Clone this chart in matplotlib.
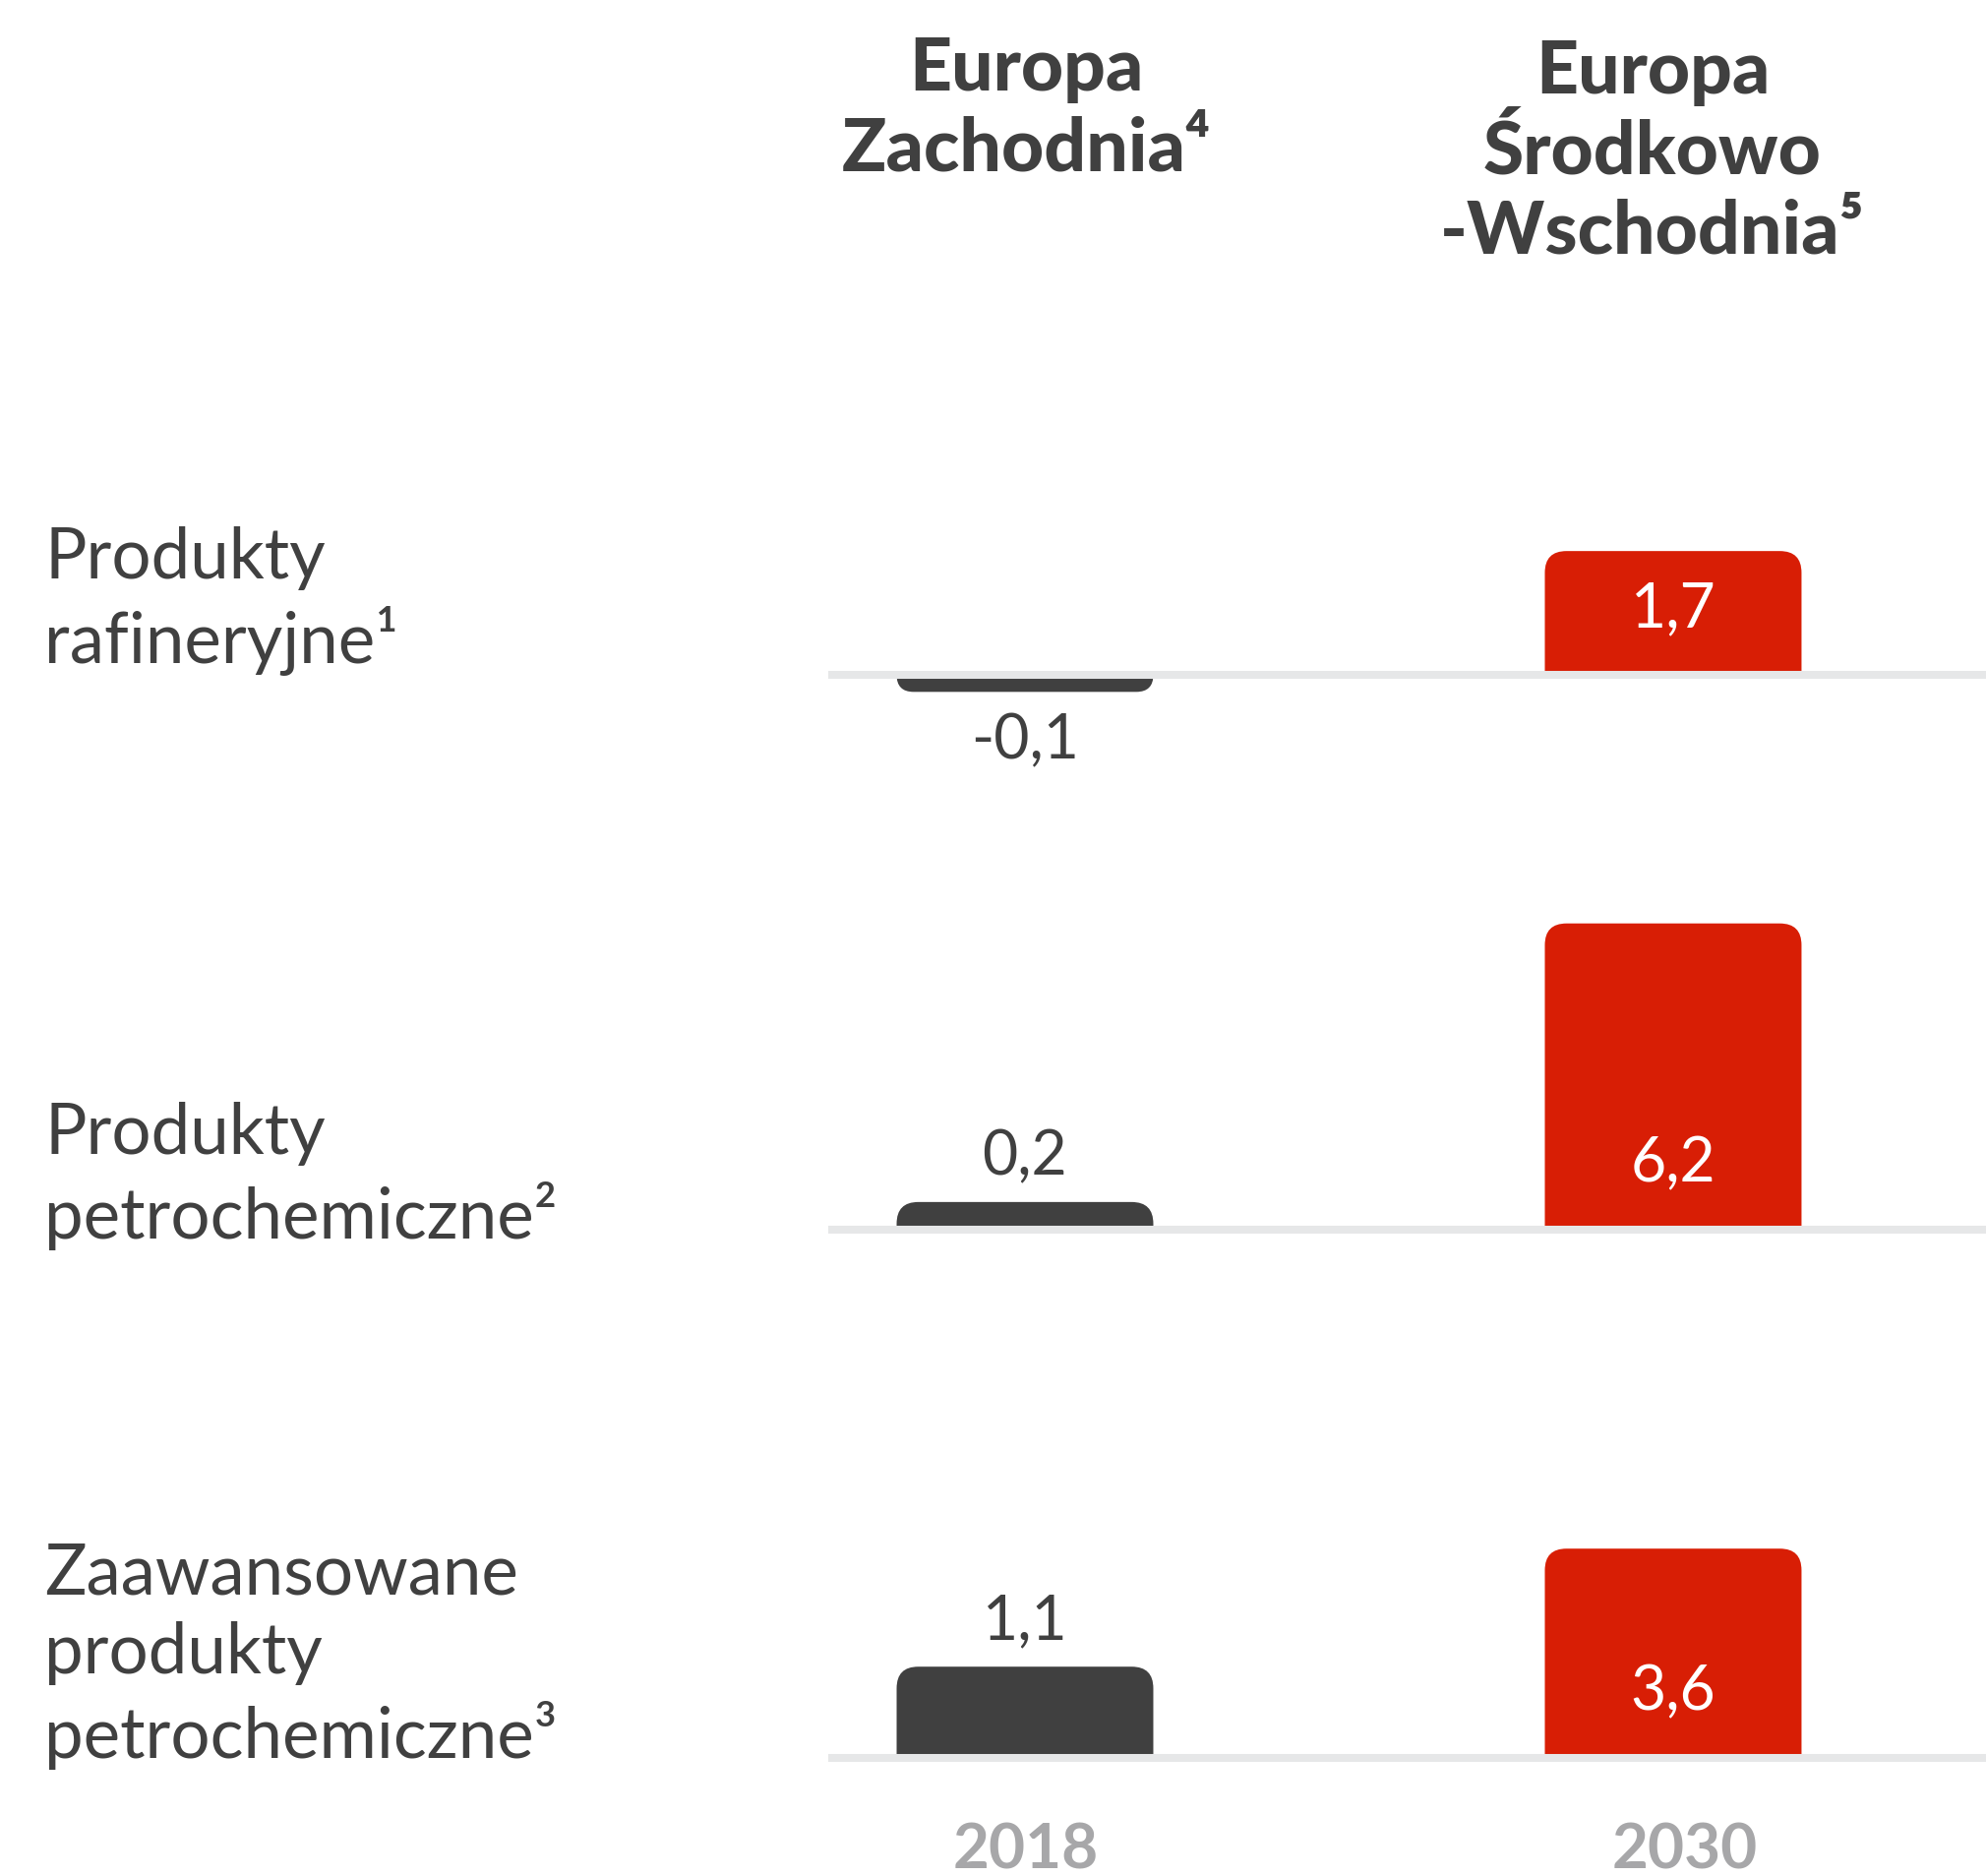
import numpy as np
import matplotlib.pyplot as plt
from matplotlib.path import Path
from matplotlib.patches import PathPatch
from matplotlib.transforms import IdentityTransform

plt.rcParams['font.family'] = ['Lato', 'DejaVu Sans']

rows = ["Produkty\nrafineryjne¹",
        "Produkty\npetrochemiczne²",
        "Zaawansowane\nprodukty\npetrochemiczne³"]
regions = ["Europa\nZachodnia⁴", "Europa\nŚrodkowo\n-Wschodnia⁵"]
years = ["2018", "2030"]
west = [-0.1, 0.2, 1.1]
east = [1.7, 6.2, 3.6]

DARK = "#404040"
RED = "#d81e05"
LINE = "#e6e7e8"
YEAR = "#a7a7a9"

W, H = 2019, 1907
fig = plt.figure(figsize=(W / 100, H / 100), dpi=100)

# value -> height, compressed so small values stay visible
pw = 0.7
fwd = lambda v: np.sign(v) * np.abs(v) ** pw
inv = lambda v: np.sign(v) * np.abs(v) ** (1 / pw)

baselines = [686, 1250, 1787]    # px from top
row_baseline = [674, 1259, 1787]  # last text line baseline, px from top
x_left, x_right = 842, 2019
px_per_unit = 86.8
ylo, yhi = -0.5, 7.0
ax_h = (fwd(yhi) - fwd(ylo)) * px_per_unit
below = -fwd(ylo) * px_per_unit


def rounded_bar(x0, x1, yb, yt, r):
    s = 1 if yt > yb else -1
    r = min(r, abs(yt - yb), (x1 - x0) / 2)
    verts = [(x0, yb), (x1, yb), (x1, yt - s * r), (x1, yt), (x1 - r, yt),
             (x0 + r, yt), (x0, yt), (x0, yt - s * r), (x0, yb)]
    codes = [Path.MOVETO, Path.LINETO, Path.LINETO, Path.CURVE3, Path.CURVE3,
             Path.LINETO, Path.CURVE3, Path.CURVE3, Path.CLOSEPOLY]
    return Path(verts, codes)


for i, base in enumerate(baselines):
    bottom = H - (base + below)
    ax = fig.add_axes([x_left / W, bottom / H, (x_right - x_left) / W, ax_h / H])
    ax.set_yscale('function', functions=(fwd, inv))
    ax.set_ylim(ylo, yhi)
    ax.set_xlim(-0.3035, 1.4826)
    ax.axis('off')

    vals = [west[i], east[i]]
    bars = ax.bar([0, 1], vals, width=0.396, color=[DARK, RED])
    for b in bars:
        (x0, y0), (x1, y1) = ax.transData.transform(
            [(b.get_x(), 0), (b.get_x() + b.get_width(), b.get_height())])
        pp = PathPatch(rounded_bar(x0, x1, y0, y1, 22), facecolor=b.get_facecolor(),
                       edgecolor='none', transform=IdentityTransform(), zorder=-1)
        fig.add_artist(pp)
        b.set_visible(False)

    ax.axhline(0, color=LINE, lw=5.8, zorder=5)

    # dark value labels
    v = west[i]
    off = 33 if v >= 0 else -36
    ax.annotate(f"{v:.1f}".replace(".", ","), (0, v), xytext=(0, off),
                textcoords='offset points', ha='center', va='center',
                fontsize=45, color=DARK, annotation_clip=False)
    # white labels inside red bars
    ax.annotate(f"{east[i]:.1f}".replace(".", ","), (1, 0), xytext=(0, 48),
                textcoords='offset points', ha='center', va='center',
                fontsize=45, color='white', annotation_clip=False, zorder=6)

    fig.text(45 / W, 1 - row_baseline[i] / H, rows[i], ha='left', va='baseline',
             fontsize=51, color=DARK, linespacing=1.28)

# column headers
fig.text(1043 / W, 1 - 173 / H, regions[0], ha='center', va='baseline', fontsize=54,
         fontweight='black', color=DARK, linespacing=1.22)
fig.text(1680 / W, 1 - 258 / H, regions[1], ha='center', va='baseline', fontsize=54,
         fontweight='black', color=DARK, linespacing=1.22)

# years
for xc, yr in zip([1043, 1713], years):
    fig.text(xc / W, 1 - 1881 / H, yr, ha='center', va='center', fontsize=46,
             fontweight='bold', color=YEAR)

fig.savefig("out.png", dpi=100, facecolor='white')
